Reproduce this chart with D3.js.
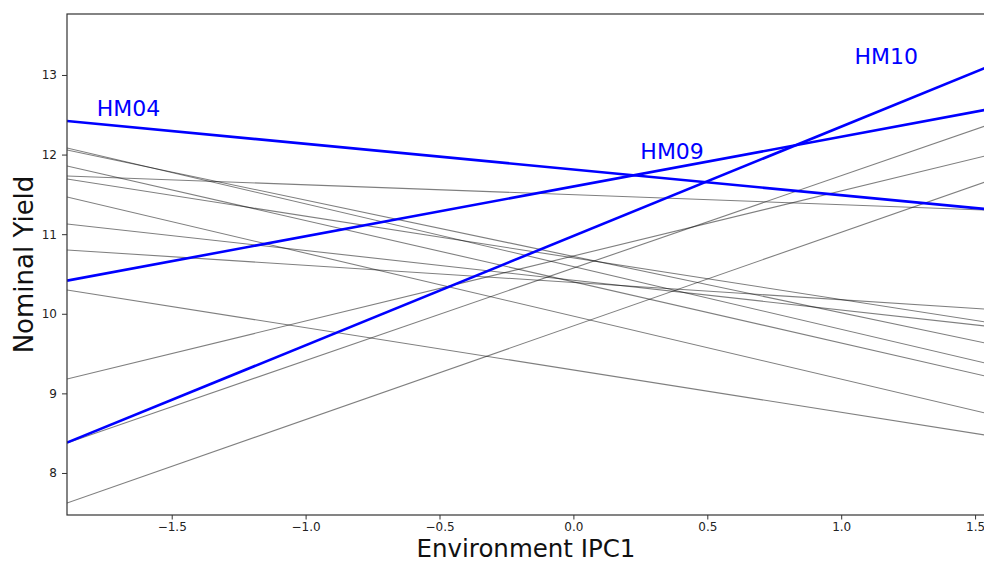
<!DOCTYPE html>
<html>
<head>
<meta charset="utf-8">
<script src="https://cdn.jsdelivr.net/npm/d3@7"></script>
<style>
  html, body { margin: 0; padding: 0; background: #fff; overflow: hidden; }
  svg { display: block; font-family: "DejaVu Sans", sans-serif; }
</style>
</head>
<body>
<svg id="chart" width="984" height="563"></svg>
<script>
// Environment range shown (IPC1 score at the left and right ends)
const envRange = [-1.891, 1.537];

// Background (unlabelled) genotypes: yield at the low and high ends of env range
const grayYieldLow  = [11.731, 12.083, 12.058, 11.857, 11.693, 11.467, 11.128, 10.802, 10.299, 9.181, 8.377, 7.623];
const grayYieldHigh = [11.304,  9.382,  9.633,  9.219,  9.897,  8.754,  9.847, 10.060,  8.477, 11.982, 12.359, 11.656];

// Highlighted genotypes
const hiNames     = ["HM04", "HM09", "HM10"];
const hiYieldLow  = [12.422, 10.416, 8.381];
const hiYieldHigh = [11.317, 12.560, 13.088];
const hiLabelX    = [-1.78, 0.25, 1.05];
const hiLabelY    = [12.485, 11.945, 13.138];

const xTicks = [-1.5, -1.0, -0.5, 0.0, 0.5, 1.0, 1.5];
const yTicks = [8, 9, 10, 11, 12, 13];

const xLabel = "Environment IPC1";
const yLabel = "Nominal Yield";

const W = 984, H = 563;
const m = { left: 67, top: 14, right: 985, bottom: 515 };

const svg = d3.select("#chart");
const x = d3.scaleLinear().domain(envRange).range([m.left, m.right]);
const y = d3.scaleLinear().domain([7.472, 13.766]).range([m.bottom, m.top]);

svg.append("defs").append("clipPath").attr("id", "clip")
  .append("rect").attr("x", m.left).attr("y", m.top)
  .attr("width", m.right - m.left).attr("height", m.bottom - m.top);

const plot = svg.append("g").attr("clip-path", "url(#clip)");
const line = d3.line().x(d => x(d[0])).y(d => y(d[1]));

plot.selectAll("path.gray")
  .data(grayYieldLow.map((v, i) => [[envRange[0], v], [envRange[1], grayYieldHigh[i]]]))
  .join("path").attr("class", "gray")
  .attr("d", line).attr("fill", "none")
  .attr("stroke", "#000").attr("stroke-opacity", 0.5).attr("stroke-width", 1.1);

plot.selectAll("path.hi")
  .data(hiYieldLow.map((v, i) => [[envRange[0], v], [envRange[1], hiYieldHigh[i]]]))
  .join("path").attr("class", "hi")
  .attr("d", line).attr("fill", "none")
  .attr("stroke", "#0000ff").attr("stroke-width", 2.6);

svg.selectAll("text.hilab").data(hiNames).join("text").attr("class", "hilab")
  .attr("x", (d, i) => x(hiLabelX[i])).attr("y", (d, i) => y(hiLabelY[i]))
  .attr("fill", "#0000ff").attr("font-size", 22).text(d => d);

// Axes
const xAxis = d3.axisBottom(x).tickValues(xTicks).tickSize(4.5).tickPadding(3)
  .tickFormat(d => d3.format(".1f")(d).replace("-", "\u2212"));
const yAxis = d3.axisLeft(y).tickValues(yTicks).tickSize(5).tickPadding(5)
  .tickFormat(d3.format("d"));

const gx = svg.append("g").attr("transform", `translate(0,${m.bottom})`).call(xAxis);
const gy = svg.append("g").attr("transform", `translate(${m.left},0)`).call(yAxis);
[gx, gy].forEach(g => {
  g.select(".domain").remove();
  g.selectAll(".tick line").attr("stroke", "#333").attr("stroke-width", 1);
  g.selectAll(".tick text").attr("fill", "#222").attr("font-size", 12)
    .attr("font-family", "DejaVu Sans, sans-serif");
});

// Spines
svg.append("rect").attr("x", m.left).attr("y", m.top)
  .attr("width", m.right - m.left).attr("height", m.bottom - m.top)
  .attr("fill", "none").attr("stroke", "#333").attr("stroke-width", 1.2);

svg.append("text").attr("x", (m.left + m.right) / 2).attr("y", 557)
  .attr("text-anchor", "middle").attr("font-size", 24.5).attr("fill", "#111").text(xLabel);

svg.append("text").attr("transform", `translate(33,${(m.top + m.bottom) / 2}) rotate(-90)`)
  .attr("text-anchor", "middle").attr("font-size", 26).attr("fill", "#111").text(yLabel);
</script>
</body>
</html>
